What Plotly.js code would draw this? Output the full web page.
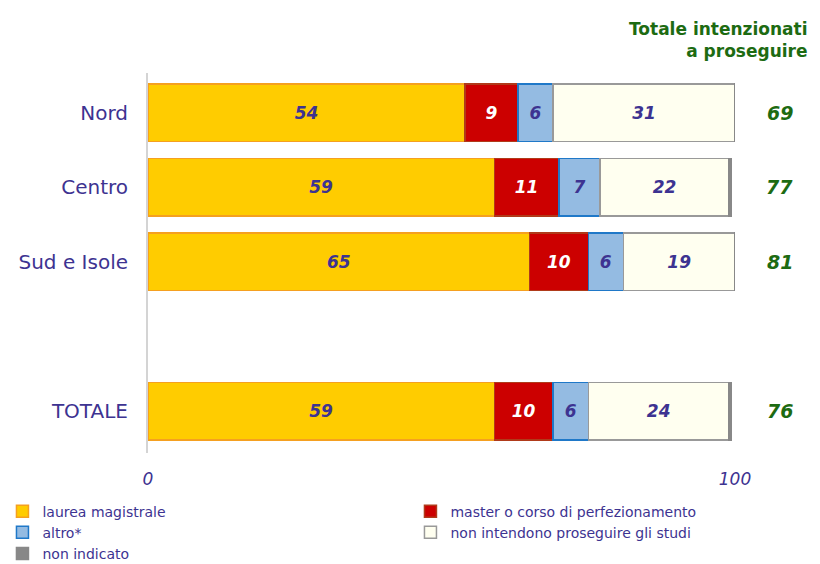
<!DOCTYPE html>
<html>
<head>
<meta charset="utf-8">
<script src="https://cdn.plot.ly/plotly-3.0.1.min.js"></script>
<style>
  body { margin: 0; background: #fff; }
  #chart { width: 820px; height: 564px; }
</style>
</head>
<body>
<div id="chart"></div>
<script>
// areas (numeric positions leave an empty slot before TOTALE)
var areas = ['Nord', 'Centro', 'Sud e Isole', 'TOTALE'];
var areaPos = [0, 1, 2, 4];

var laurea = [54, 59, 65, 59];
var master = [9, 11, 10, 10];
var altro = [6, 7, 6, 6];
var nonProseguono = [31, 22, 19, 24];
var nonIndicato = [0.4, 0.4, 0.4, 0.4];

var totaleProseguono = [69, 77, 81, 76];

var purple = '#3d3391';
var green = '#1d6b12';
var font = 'DejaVu Sans, Verdana, sans-serif';

function segment(name, vals, fill, border, txtColor, showText) {
  return {
    type: 'bar',
    orientation: 'h',
    name: name,
    x: vals,
    y: areaPos,
    width: 0.77,
    marker: { color: fill, line: { color: border, width: 1.5 } },
    text: showText ? vals.map(String) : null,
    texttemplate: showText ? '%{text}' : '',
    textposition: showText ? 'inside' : 'none',
    insidetextanchor: 'middle',
    textfont: { family: font, size: 17, color: txtColor, style: 'italic', weight: 'bold' },
    hoverinfo: 'x+name'
  };
}

var data = [
  segment('laurea magistrale', laurea, '#ffcc00', '#f5a020', purple, true),
  segment('master o corso di perfezionamento', master, '#cc0000', '#b03a1a', '#ffffff', true),
  segment('altro*', altro, '#94bbe2', '#1f78c8', purple, true),
  segment('non intendono proseguire gli studi', nonProseguono, '#fffff0', '#999999', purple, true),
  segment('non indicato', nonIndicato, '#888888', '#888888', purple, false)
];

var annotations = areaPos.map(function (p, i) {
  return {
    xref: 'paper', yref: 'y',
    x: 795 / 820, y: p,
    text: '<b><i>' + totaleProseguono[i] + '</i></b>',
    showarrow: false,
    font: { family: font, size: 19, color: green }
  };
});
annotations.push({
  xref: 'paper', yref: 'paper',
  x: 810 / 820, y: 1.088,
  xanchor: 'right', yanchor: 'middle', align: 'right',
  text: '<b>Totale intenzionati<br>a proseguire</b>',
  showarrow: false,
  font: { family: font, size: 17, color: green }
});

var layout = {
  width: 820,
  height: 564,
  margin: { l: 0, r: 0, t: 73, b: 111, autoexpand: false },
  paper_bgcolor: '#ffffff',
  plot_bgcolor: '#ffffff',
  barmode: 'stack',
  showlegend: true,
  xaxis: {
    domain: [148 / 820, 735 / 820],
    range: [0, 100],
    tickvals: [0, 100],
    ticktext: ['<i>0</i>', '<i>100</i>'],
    showgrid: false,
    zeroline: false,
    showline: false,
    ticks: '',
    ticklabelstandoff: 14,
    tickfont: { family: font, size: 17, color: purple }
  },
  yaxis: {
    range: [4.56, -0.53],
    tickvals: areaPos,
    ticktext: areas,
    showgrid: false,
    zeroline: false,
    showline: true,
    linecolor: '#d4d4d4',
    linewidth: 2,
    ticks: '',
    ticklabelstandoff: 14,
    tickfont: { family: font, size: 20, color: purple }
  },
  legend: {
    orientation: 'h',
    x: 0.003, xanchor: 'left',
    y: -0.112, yanchor: 'top',
    traceorder: 'normal',
    entrywidth: 363,
    tracegroupgap: 0,
    itemclick: false,
    font: { family: font, size: 14, color: purple }
  },
  annotations: annotations
};

Plotly.newPlot('chart', data, layout, { displayModeBar: false });
</script>
</body>
</html>
